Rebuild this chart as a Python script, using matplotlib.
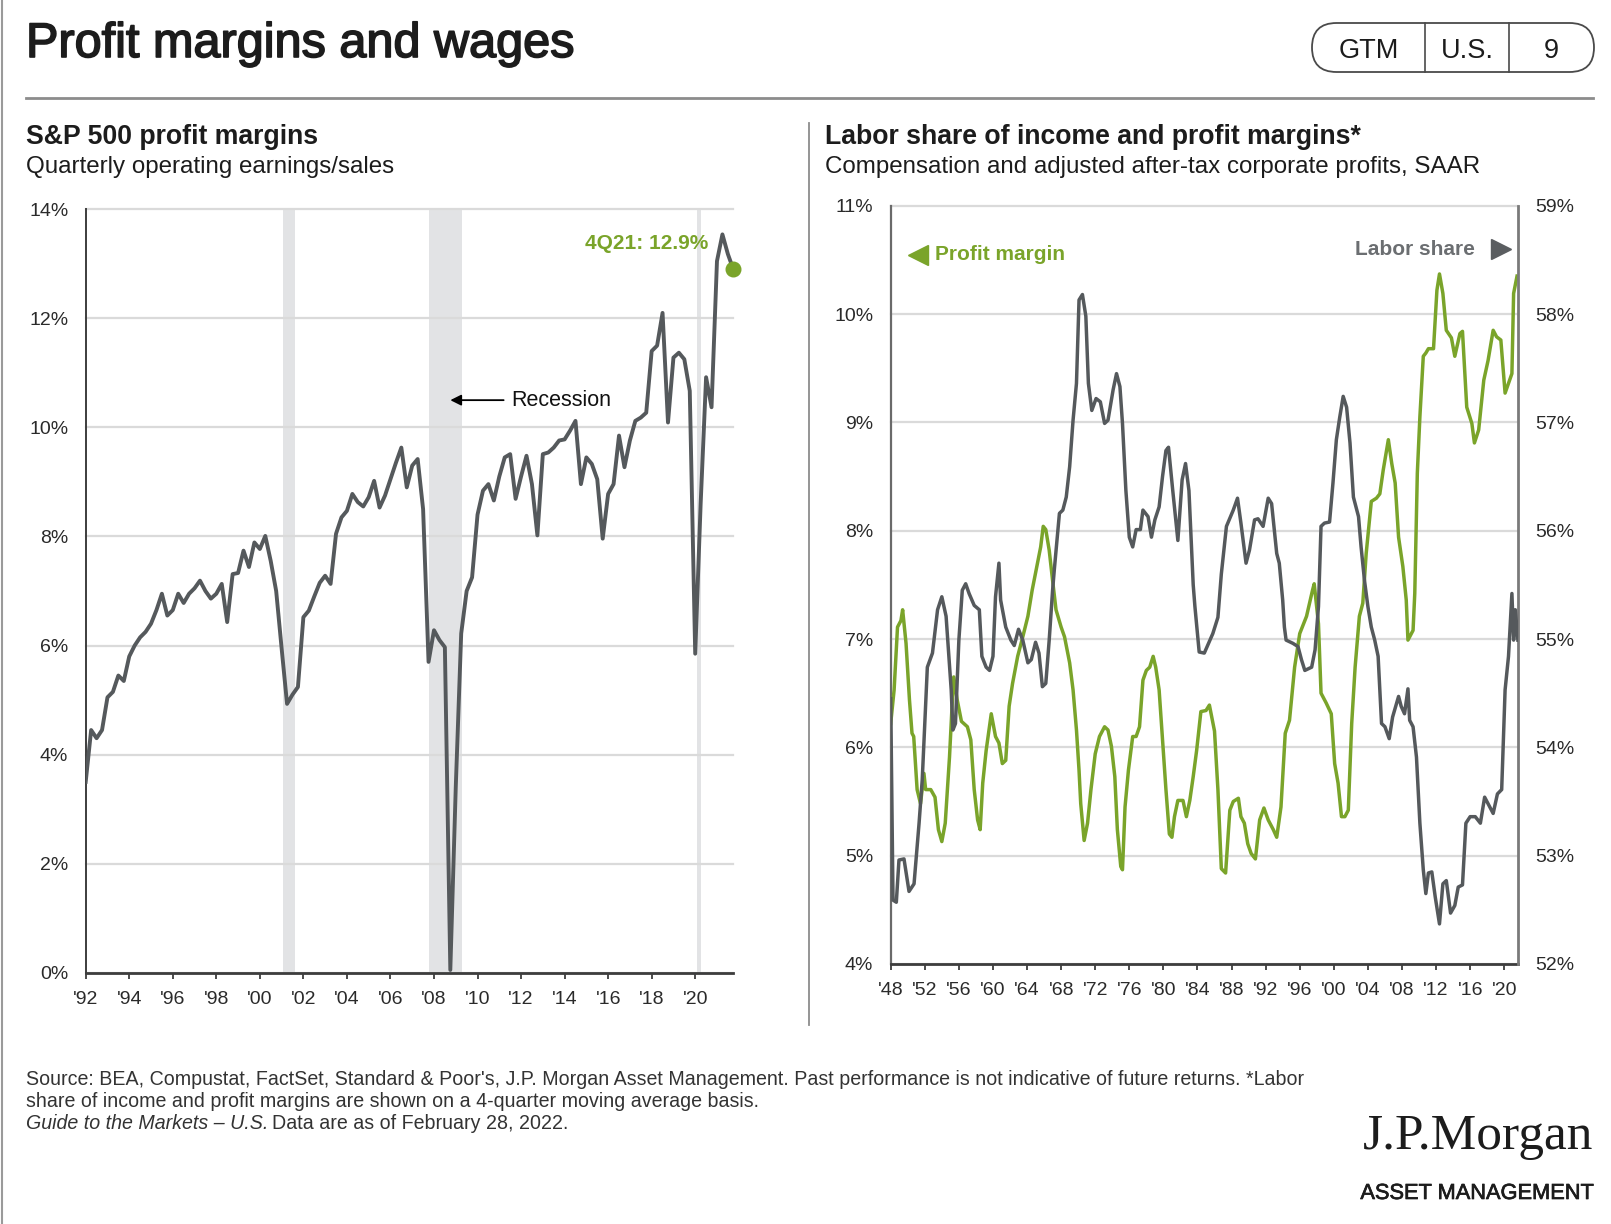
import numpy as np
import matplotlib
matplotlib.use("Agg")
import matplotlib.pyplot as plt
from matplotlib import font_manager
from matplotlib.patches import FancyBboxPatch
import matplotlib.patheffects as pe

W, H = 1611, 1224

# S&P 500 operating margin, quarterly from 1Q92 to 4Q21 (%)
sp_start = 1992
sp_margin = [
    3.5, 4.45, 4.3, 4.45, 5.05, 5.15, 5.45, 5.35, 5.8, 6.0,
    6.15, 6.25, 6.4, 6.65, 6.95, 6.55, 6.65, 6.95, 6.78, 6.95,
    7.05, 7.19, 7.0, 6.86, 6.95, 7.13, 6.43, 7.31, 7.33, 7.74,
    7.44, 7.89, 7.77, 8.01, 7.55, 7.0, 5.95, 4.93, 5.1, 5.24,
    6.52, 6.64, 6.9, 7.15, 7.28, 7.13, 8.05, 8.35, 8.47, 8.78,
    8.63, 8.55, 8.72, 9.02, 8.53, 8.75, 9.05, 9.35, 9.63, 8.9,
    9.3, 9.42, 8.5, 5.7, 6.28, 6.1, 5.97, 0.05, 3.4, 6.22,
    7.0, 7.25, 8.4, 8.84, 8.96, 8.66, 9.1, 9.45, 9.51, 8.69,
    9.1, 9.48, 8.96, 8.02, 9.51, 9.54, 9.63, 9.76, 9.78, 9.94,
    10.12, 8.96, 9.45, 9.33, 9.05, 7.96, 8.78, 8.96, 9.85, 9.27,
    9.76, 10.12, 10.18, 10.27, 11.4, 11.5, 12.1, 10.09, 11.28, 11.37,
    11.25, 10.67, 5.85, 8.6, 10.92, 10.37, 13.05, 13.54, 13.18, 12.9,
]
recessions = [(2001.05, 2001.6), (2007.75, 2009.3), (2020.08, 2020.27)]

# labor share of income (%), right axis
labor_years = [
    1948.0, 1948.27, 1948.66, 1948.97, 1949.56, 1950.15, 1950.74, 1951.33, 1951.7, 1952.3,
    1952.9, 1953.5, 1954.0, 1954.5, 1955.1, 1955.3, 1955.6, 1956.0, 1956.4, 1956.8,
    1957.2, 1957.8, 1958.4, 1958.7, 1959.2, 1959.6, 1960.0, 1960.3, 1960.7, 1960.9,
    1961.5, 1962.1, 1962.5, 1963.0, 1963.5, 1964.1, 1964.5, 1965.0, 1965.4, 1965.8,
    1966.2, 1966.6, 1967.0, 1967.2, 1967.8, 1968.2, 1968.6, 1969.0, 1969.4, 1969.8,
    1970.1, 1970.5, 1970.9, 1971.2, 1971.6, 1972.1, 1972.6, 1973.1, 1973.5, 1974.1,
    1974.5, 1974.9, 1975.2, 1975.6, 1976.0, 1976.4, 1976.8, 1977.3, 1977.6, 1978.2,
    1978.6, 1979.0, 1979.5, 1979.9, 1980.3, 1980.6, 1981.1, 1981.7, 1982.2, 1982.6,
    1983.0, 1983.5, 1983.7, 1984.2, 1984.8, 1985.8, 1986.4, 1986.8, 1987.4, 1988.2,
    1988.7, 1989.1, 1989.7, 1990.1, 1990.7, 1991.1, 1991.7, 1992.3, 1992.7, 1993.3,
    1993.6, 1994.0, 1994.2, 1994.4, 1995.2, 1995.8, 1996.2, 1996.6, 1997.4, 1997.8,
    1998.2, 1998.5, 1998.9, 1999.5, 1999.9, 2000.3, 2000.7, 2001.1, 2001.5, 2001.9,
    2002.3, 2002.9, 2003.2, 2003.6, 2004.0, 2004.4, 2004.8, 2005.2, 2005.4, 2005.6,
    2006.0, 2006.5, 2006.9, 2007.6, 2007.9, 2008.3, 2008.7, 2008.9, 2009.3, 2009.7,
    2010.1, 2010.5, 2010.8, 2011.1, 2011.5, 2011.9, 2012.4, 2012.8, 2013.2, 2013.7,
    2014.2, 2014.6, 2015.1, 2015.5, 2016.0, 2016.6, 2017.2, 2017.7, 2018.3, 2018.7,
    2019.2, 2019.7, 2020.1, 2020.5, 2020.9, 2021.1, 2021.3, 2021.6,
]
labor_share = [
    54.45, 52.59, 52.57, 52.96, 52.97, 52.67, 52.74, 53.30, 53.70, 54.74,
    54.87, 55.27, 55.39, 55.21, 54.53, 54.16, 54.22, 54.99, 55.45, 55.51,
    55.42, 55.31, 55.27, 54.84, 54.74, 54.71, 54.84, 55.39, 55.70, 55.36,
    55.11, 54.99, 54.94, 55.09, 54.99, 54.78, 54.81, 54.97, 54.87, 54.56,
    54.59, 54.99, 55.45, 55.64, 56.16, 56.19, 56.31, 56.59, 57.02, 57.36,
    58.13, 58.18, 57.98, 57.36, 57.11, 57.22, 57.19, 56.99, 57.02, 57.30,
    57.45, 57.33, 56.99, 56.37, 55.94, 55.85, 56.01, 56.01, 56.19, 56.13,
    55.94, 56.10, 56.22, 56.50, 56.74, 56.77, 56.37, 55.91, 56.47, 56.62,
    56.37, 55.50, 55.30, 54.88, 54.87, 55.05, 55.20, 55.60, 56.04, 56.19,
    56.30, 56.07, 55.70, 55.82, 56.10, 56.11, 56.04, 56.30, 56.25, 55.79,
    55.70, 55.36, 55.11, 54.99, 54.96, 54.93, 54.81, 54.71, 54.74, 54.90,
    55.30, 56.04, 56.07, 56.08, 56.44, 56.84, 57.05, 57.24, 57.14, 56.81,
    56.31, 56.13, 55.85, 55.54, 55.30, 55.11, 54.99, 54.84, 54.53, 54.22,
    54.19, 54.08, 54.28, 54.47, 54.38, 54.31, 54.54, 54.25, 54.19, 53.91,
    53.30, 52.87, 52.65, 52.84, 52.85, 52.62, 52.37, 52.74, 52.77, 52.47,
    52.54, 52.71, 52.73, 53.30, 53.36, 53.36, 53.30, 53.54, 53.45, 53.39,
    53.57, 53.61, 54.53, 54.84, 55.42, 54.99, 55.27, 54.99,
]

# adjusted after-tax corporate profit margin (%), left axis
profit_years = [
    1948.0, 1948.4, 1948.8, 1949.2, 1949.4, 1949.8, 1950.2, 1950.5, 1950.7, 1951.1,
    1951.5, 1951.9, 1952.1, 1952.7, 1953.2, 1953.6, 1954.0, 1954.4, 1954.9, 1955.2,
    1955.4, 1955.8, 1956.3, 1957.0, 1957.4, 1957.8, 1958.2, 1958.5, 1958.8, 1959.2,
    1959.8, 1960.3, 1960.7, 1961.1, 1961.5, 1961.9, 1962.3, 1962.9, 1963.5, 1964.1,
    1964.6, 1965.0, 1965.6, 1965.9, 1966.2, 1966.6, 1967.0, 1967.4, 1968.0, 1968.4,
    1969.0, 1969.4, 1969.8, 1970.1, 1970.3, 1970.7, 1971.1, 1971.5, 1972.0, 1972.5,
    1973.1, 1973.5, 1973.9, 1974.3, 1974.6, 1975.0, 1975.2, 1975.5, 1975.9, 1976.4,
    1976.8, 1977.2, 1977.6, 1978.0, 1978.4, 1978.8, 1979.1, 1979.5, 1979.9, 1980.3,
    1980.7, 1981.0, 1981.3, 1981.7, 1982.3, 1982.7, 1983.1, 1983.5, 1983.9, 1984.4,
    1985.0, 1985.4, 1986.0, 1986.4, 1986.8, 1987.3, 1987.8, 1988.2, 1988.8, 1989.1,
    1989.5, 1989.9, 1990.3, 1990.8, 1991.3, 1991.8, 1992.3, 1992.9, 1993.3, 1993.8,
    1994.3, 1994.8, 1995.4, 1996.0, 1996.8, 1997.5, 1997.7, 1998.2, 1998.5, 1999.1,
    1999.7, 2000.1, 2000.5, 2000.9, 2001.3, 2001.7, 2002.1, 2002.5, 2003.0, 2003.4,
    2003.8, 2004.4, 2005.0, 2005.4, 2005.8, 2006.4, 2006.8, 2007.2, 2007.6, 2008.1,
    2008.5, 2008.7, 2009.3, 2009.5, 2009.8, 2010.1, 2010.5, 2010.8, 2011.1, 2011.7,
    2012.1, 2012.4, 2012.8, 2013.2, 2013.8, 2014.2, 2014.8, 2015.1, 2015.6, 2016.2,
    2016.5, 2017.0, 2017.6, 2018.1, 2018.7, 2019.1, 2019.6, 2020.1, 2020.5, 2020.9,
    2021.1, 2021.5,
]
profit_margin = [
    6.22, 6.53, 7.11, 7.17, 7.27, 6.96, 6.44, 6.13, 6.10, 5.61,
    5.48, 5.76, 5.61, 5.61, 5.54, 5.24, 5.13, 5.30, 5.91, 6.38,
    6.65, 6.44, 6.24, 6.19, 6.07, 5.61, 5.33, 5.24, 5.67, 5.97,
    6.31, 6.10, 6.04, 5.85, 5.88, 6.38, 6.59, 6.84, 7.02, 7.21,
    7.45, 7.61, 7.85, 8.04, 8.01, 7.82, 7.54, 7.27, 7.11, 7.02,
    6.78, 6.53, 6.16, 5.79, 5.48, 5.14, 5.30, 5.61, 5.94, 6.10,
    6.19, 6.16, 6.01, 5.73, 5.24, 4.90, 4.87, 5.45, 5.79, 6.10,
    6.10, 6.19, 6.62, 6.71, 6.74, 6.84, 6.74, 6.53, 6.07, 5.61,
    5.20, 5.17, 5.36, 5.51, 5.51, 5.36, 5.51, 5.73, 5.97, 6.33,
    6.34, 6.39, 6.15, 5.61, 4.88, 4.84, 5.42, 5.50, 5.53, 5.36,
    5.30, 5.11, 5.02, 4.97, 5.33, 5.44, 5.33, 5.24, 5.17, 5.45,
    6.13, 6.25, 6.74, 7.05, 7.21, 7.45, 7.51, 7.14, 6.50, 6.41,
    6.31, 5.85, 5.67, 5.36, 5.36, 5.42, 6.22, 6.74, 7.21, 7.33,
    7.79, 8.27, 8.30, 8.34, 8.56, 8.84, 8.62, 8.44, 7.94, 7.67,
    7.36, 6.99, 7.08, 7.42, 8.53, 9.05, 9.61, 9.64, 9.68, 9.68,
    10.22, 10.37, 10.19, 9.85, 9.78, 9.61, 9.82, 9.84, 9.14, 8.99,
    8.81, 8.93, 9.39, 9.57, 9.85, 9.79, 9.76, 9.27, 9.36, 9.45,
    10.19, 10.35,
]

left_xticks = list(range(1992, 2021, 2))
left_yticks = list(range(0, 15, 2))
right_xticks = list(range(1948, 2021, 4))
pm_ticks = list(range(4, 12))
ls_ticks = list(range(52, 60))

source_lines = [
    "Source: BEA, Compustat, FactSet, Standard & Poor's, J.P. Morgan Asset Management. "
    "Past performance is not indicative of future returns. *Labor",
    "share of income and profit margins are shown on a 4-quarter moving average basis.",
]

GRAY = "#55595c"
GREEN = "#7aa42a"
GRID = "#dadada"
BAND = "#e2e3e5"
DARK = "#1c1c1c"
AXIS = "#3d3d3d"

names = {f.name for f in font_manager.fontManager.ttflist}
plt.rcParams["font.family"] = ["Liberation Sans", "DejaVu Sans"]
narrow = "Liberation Sans Narrow" if "Liberation Sans Narrow" in names else None


def yr_label(y):
    return "'%02d" % (y % 100)


fig = plt.figure(figsize=(W / 100, H / 100), dpi=100)

# background axes in pixel coordinates for header / footer pieces
bg = fig.add_axes([0, 0, 1, 1])
bg.set_xlim(0, W)
bg.set_ylim(H, 0)
bg.axis("off")

bg.text(26, 57, "Profit margins and wages", fontsize=35, va="baseline", color=DARK,
        path_effects=[pe.withStroke(linewidth=1.2, foreground=DARK)])

pill = FancyBboxPatch((1312, 23), 282, 49, boxstyle="round,pad=0,rounding_size=24.5",
                      fc="none", ec="#4a4a4a", lw=1.3)
bg.add_patch(pill)
bg.plot([1425, 1425], [23, 72], color="#4a4a4a", lw=1.2)
bg.plot([1509, 1509], [23, 72], color="#4a4a4a", lw=1.2)
for txt, cx in [("GTM", 1368.5), ("U.S.", 1467), ("9", 1551.5)]:
    bg.text(cx, 58.5, txt, fontsize=19.5, ha="center", va="baseline", color=DARK)

bg.plot([26, 1593], [97.6, 97.6], color="#8c8c8c", lw=2)
bg.plot([808.6, 808.6], [123, 1025], color="#8c8c8c", lw=1.3)
bg.plot([1.5, 1.5], [0, H], color="#9a9a9a", lw=1.5)

bg.text(26, 144.5, "S&P 500 profit margins", fontsize=19.2, weight="bold", va="baseline", color=DARK)
bg.text(26, 172.5, "Quarterly operating earnings/sales", fontsize=17.4, va="baseline", color=DARK)
bg.text(825, 144.5, "Labor share of income and profit margins*", fontsize=19.2, weight="bold",
        va="baseline", color=DARK)
bg.text(825, 172.5, "Compensation and adjusted after-tax corporate profits, SAAR", fontsize=17.4,
        va="baseline", color=DARK)

# footer
for k, line in enumerate(source_lines):
    bg.text(26, 1085 + 21.8 * k, line, fontsize=14.1, va="baseline", color="#333333")
t = bg.text(26, 1128.6, "Guide to the Markets \u2013 U.S.", fontsize=14.1, style="italic",
            va="baseline", color="#333333")
rend = fig.canvas.get_renderer()
bb = t.get_window_extent(rend)
bg.text(bb.x1 + 4, 1128.6, "Data are as of February 28, 2022.", fontsize=14.1, va="baseline",
        color="#333333")

bg.text(1593, 1148.6, "J.P.Morgan", family="Liberation Serif", fontsize=37, ha="right",
        va="baseline", color=DARK)
if narrow:
    bg.text(1593, 1199, "ASSET MANAGEMENT", family=narrow, fontsize=19, ha="right",
            va="baseline", color=DARK)
else:
    bg.text(1593, 1199, "ASSET MANAGEMENT", fontsize=15.7, ha="right", va="baseline", color=DARK,
            path_effects=[pe.withStroke(linewidth=0.5, foreground=DARK)])

# ---- left chart ----
ax1 = fig.add_axes([85.7 / W, 1 - 972.7 / H, (733.3 - 85.7) / W, (972.7 - 209.3) / H])
ax1.set_zorder(1)
quarters = sp_start + np.arange(len(sp_margin)) / 4
for a, b in recessions:
    ax1.axvspan(a, b, color=BAND, lw=0, zorder=0)
ax1.plot(quarters, sp_margin, color=GRAY, lw=2.8, solid_joinstyle="round", zorder=3)
ax1.plot(quarters[-1], sp_margin[-1], "o", color=GREEN, ms=10.5, zorder=4, clip_on=False)
ax1.set_xlim(sp_start, quarters[-1])
ax1.set_ylim(0, 14)
ax1.set_yticks(left_yticks)
ax1.set_yticklabels(["%d%%" % v for v in left_yticks])
ax1.set_xticks(left_xticks)
ax1.set_xticklabels([yr_label(y) for y in left_xticks])
ax1.yaxis.grid(True, color=GRID, lw=1.6, zorder=0)
for gl in ax1.get_ygridlines():
    gl.set_clip_on(False)
ax1.set_axisbelow(True)
ax1.tick_params(axis="y", length=0, pad=12.5, labelsize=14, labelcolor="#2a2a2a")
ax1.tick_params(axis="x", length=4.5, width=1.3, color=AXIS, pad=8.5, labelsize=14,
                labelcolor="#2a2a2a")
for s in ["top", "right"]:
    ax1.spines[s].set_visible(False)
ax1.spines["left"].set_color(AXIS)
ax1.spines["left"].set_linewidth(1.4)
ax1.spines["bottom"].set_color(AXIS)
ax1.spines["bottom"].set_linewidth(2)

ax1.text(2020.6, 13.37, "4Q21: %.1f%%" % sp_margin[-1], color=GREEN, fontsize=15, weight="bold",
         ha="right", va="center")
ax1.annotate("", xy=(2008.75, 10.5), xytext=(2011.2, 10.5),
             arrowprops=dict(arrowstyle="-|>", color="black", lw=1.3, mutation_scale=16,
                             shrinkA=0, shrinkB=0))
ax1.text(2011.55, 10.5, "Recession", fontsize=15.5, ha="left", va="center", color="#111111")

# ---- right chart ----
ax2 = fig.add_axes([890.7 / W, 1 - 964 / H, (1518.3 - 890.7) / W, (964 - 205.7) / H])
ax2.set_zorder(1)
ax3 = ax2.twinx()
ax2.plot(profit_years, profit_margin, color=GREEN, lw=2.5, solid_joinstyle="round", zorder=3)
ax3.plot(labor_years, labor_share, color=GRAY, lw=2.5, solid_joinstyle="round", zorder=3)
ax2.set_xlim(1948, 2021.65)
ax2.set_ylim(pm_ticks[0], pm_ticks[-1])
ax3.set_ylim(ls_ticks[0], ls_ticks[-1])
ax2.set_xticks(right_xticks)
ax2.set_xticklabels([yr_label(y) for y in right_xticks])
ax2.set_yticks(pm_ticks)
ax2.set_yticklabels(["%d%%" % v for v in pm_ticks])
ax3.set_yticks(ls_ticks)
ax3.set_yticklabels(["%d%%" % v for v in ls_ticks])
ax2.yaxis.grid(True, color=GRID, lw=1.6)
for gl in ax2.get_ygridlines():
    gl.set_clip_on(False)
ax2.set_axisbelow(True)
ax2.tick_params(axis="y", length=0, pad=12.5, labelsize=14, labelcolor="#2a2a2a")
ax3.tick_params(axis="y", length=0, pad=12.5, labelsize=14, labelcolor="#2a2a2a")
ax2.tick_params(axis="x", length=4.5, width=1.3, color=AXIS, pad=8.5, labelsize=14,
                labelcolor="#2a2a2a")
for s in ["top", "right"]:
    ax2.spines[s].set_visible(False)
for s in ["top", "left", "bottom"]:
    ax3.spines[s].set_visible(False)
ax2.spines["left"].set_color("#6a6a6a")
ax2.spines["left"].set_linewidth(1.6)
ax2.spines["bottom"].set_color(AXIS)
ax2.spines["bottom"].set_linewidth(2)
ax3.spines["right"].set_color("#7a7a7a")
ax3.spines["right"].set_linewidth(2)

ax2.plot([1951.2], [10.545], marker="<", ms=15, color=GREEN, clip_on=False, zorder=5)
ax2.text(1953.2, 10.545, "Profit margin", color=GREEN, fontsize=15, weight="bold",
         ha="left", va="center")
ax2.plot([2019.6], [10.6], marker=">", ms=14, color="#5a5d60", clip_on=False, zorder=5)
ax2.text(2016.6, 10.6, "Labor share", color="#6b6e71", fontsize=15, weight="bold",
         ha="right", va="center")

fig.savefig("out.png", dpi=100)
